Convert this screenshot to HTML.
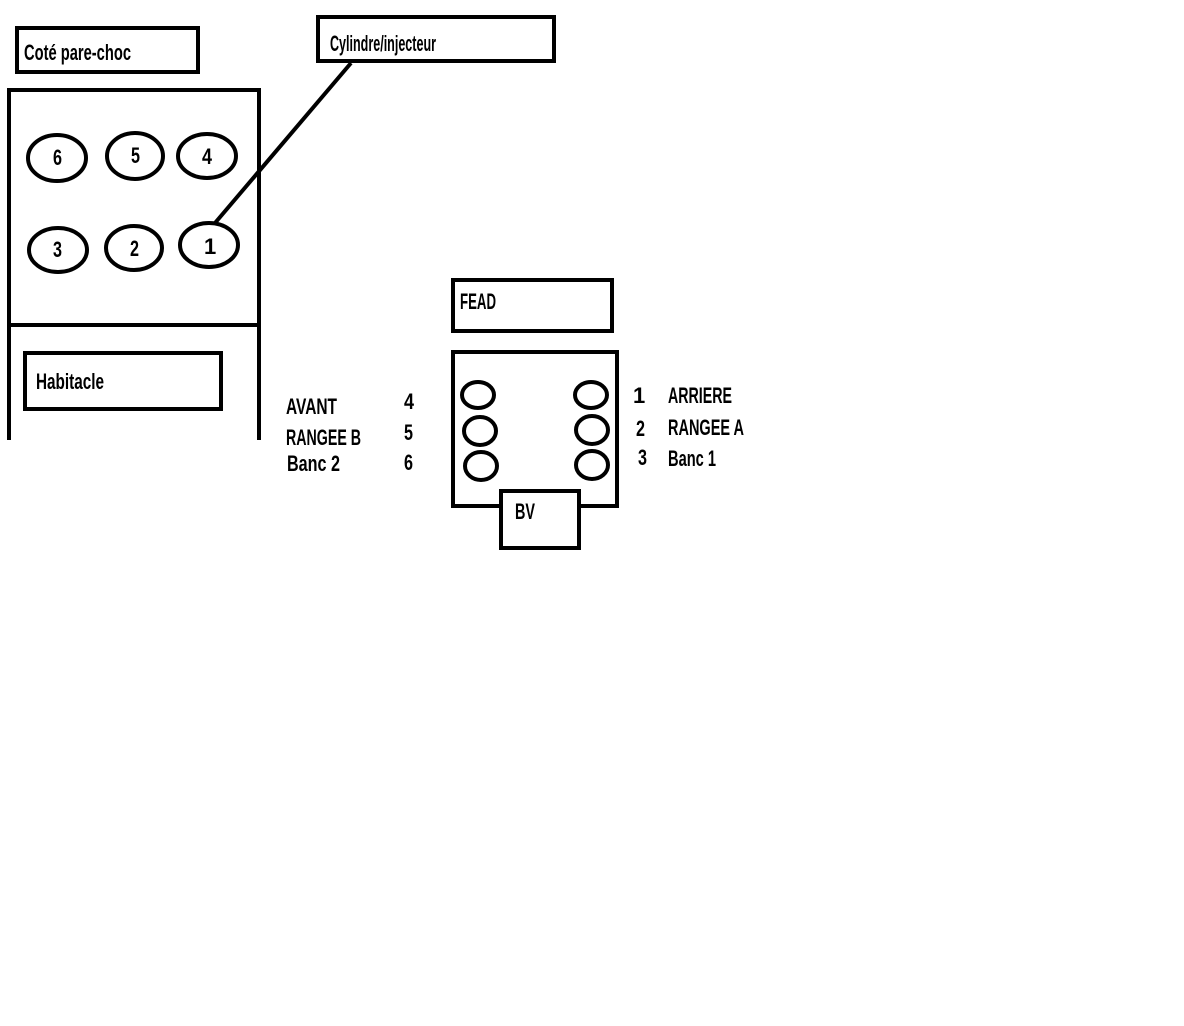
<!DOCTYPE html>
<html><head><meta charset="utf-8"><style>
html,body{margin:0;padding:0;background:#fff;}
svg{display:block;}
text{font-family:"Liberation Sans Narrow","Liberation Sans",sans-serif;font-weight:bold;font-size:22px;fill:#000;}
</style></head><body>
<svg width="1184" height="1026" viewBox="0 0 1184 1026" xmlns="http://www.w3.org/2000/svg">
<g fill="none" stroke="#000" stroke-width="4">
<rect x="17" y="28" width="181" height="44"/>
<rect x="318" y="17" width="236" height="44"/>
<polyline points="9,440 9,90 259,90 259,440"/>
<line x1="9" y1="325" x2="259" y2="325"/>
<ellipse cx="57" cy="158" rx="29" ry="23"/>
<ellipse cx="135" cy="156" rx="28" ry="23"/>
<ellipse cx="207" cy="156" rx="29" ry="22"/>
<ellipse cx="58" cy="250" rx="29" ry="22"/>
<ellipse cx="134" cy="248" rx="28" ry="22"/>
<ellipse cx="209" cy="245" rx="29" ry="22"/>
<line x1="351" y1="63" x2="215" y2="223"/>
<rect x="25" y="353" width="196" height="56"/>
<rect x="453" y="280" width="159" height="51"/>
<rect x="453" y="352" width="164" height="154"/>
<rect x="501" y="491" width="78" height="57" fill="#fff"/>
<ellipse cx="478" cy="395" rx="16" ry="13"/>
<ellipse cx="480" cy="431" rx="16" ry="14"/>
<ellipse cx="481" cy="466" rx="16" ry="14"/>
<ellipse cx="591" cy="395" rx="16" ry="13"/>
<ellipse cx="592" cy="430" rx="16" ry="14"/>
<ellipse cx="592" cy="465" rx="16" ry="14"/>
</g>
<text x="24" y="60" textLength="107" lengthAdjust="spacingAndGlyphs">Coté pare-choc</text>
<text x="330" y="51" textLength="106" lengthAdjust="spacingAndGlyphs">Cylindre/injecteur</text>
<text x="36" y="389" textLength="68" lengthAdjust="spacingAndGlyphs">Habitacle</text>
<text x="460" y="309" textLength="36" lengthAdjust="spacingAndGlyphs">FEAD</text>
<text x="515" y="519" textLength="20" lengthAdjust="spacingAndGlyphs">BV</text>
<g>
<text x="53" y="165" textLength="9" lengthAdjust="spacingAndGlyphs">6</text>
<text x="131" y="163" textLength="9" lengthAdjust="spacingAndGlyphs">5</text>
<text x="202" y="164" textLength="10" lengthAdjust="spacingAndGlyphs">4</text>
<text x="53" y="257" textLength="9" lengthAdjust="spacingAndGlyphs">3</text>
<text x="130" y="256" textLength="9" lengthAdjust="spacingAndGlyphs">2</text>
<text x="204" y="254">1</text>
<text x="404" y="409" textLength="10" lengthAdjust="spacingAndGlyphs">4</text>
<text x="404" y="440" textLength="9" lengthAdjust="spacingAndGlyphs">5</text>
<text x="404" y="470" textLength="9" lengthAdjust="spacingAndGlyphs">6</text>
<text x="633" y="403">1</text>
<text x="636" y="436" textLength="9" lengthAdjust="spacingAndGlyphs">2</text>
<text x="638" y="465" textLength="9" lengthAdjust="spacingAndGlyphs">3</text>
</g>
<text x="286" y="414" textLength="51" lengthAdjust="spacingAndGlyphs">AVANT</text>
<text x="286" y="445" textLength="75" lengthAdjust="spacingAndGlyphs">RANGEE B</text>
<text x="287" y="471" textLength="53" lengthAdjust="spacingAndGlyphs">Banc 2</text>
<text x="668" y="403" textLength="64" lengthAdjust="spacingAndGlyphs">ARRIERE</text>
<text x="668" y="435" textLength="76" lengthAdjust="spacingAndGlyphs">RANGEE A</text>
<text x="668" y="466" textLength="48" lengthAdjust="spacingAndGlyphs">Banc 1</text>
</svg>
</body></html>
